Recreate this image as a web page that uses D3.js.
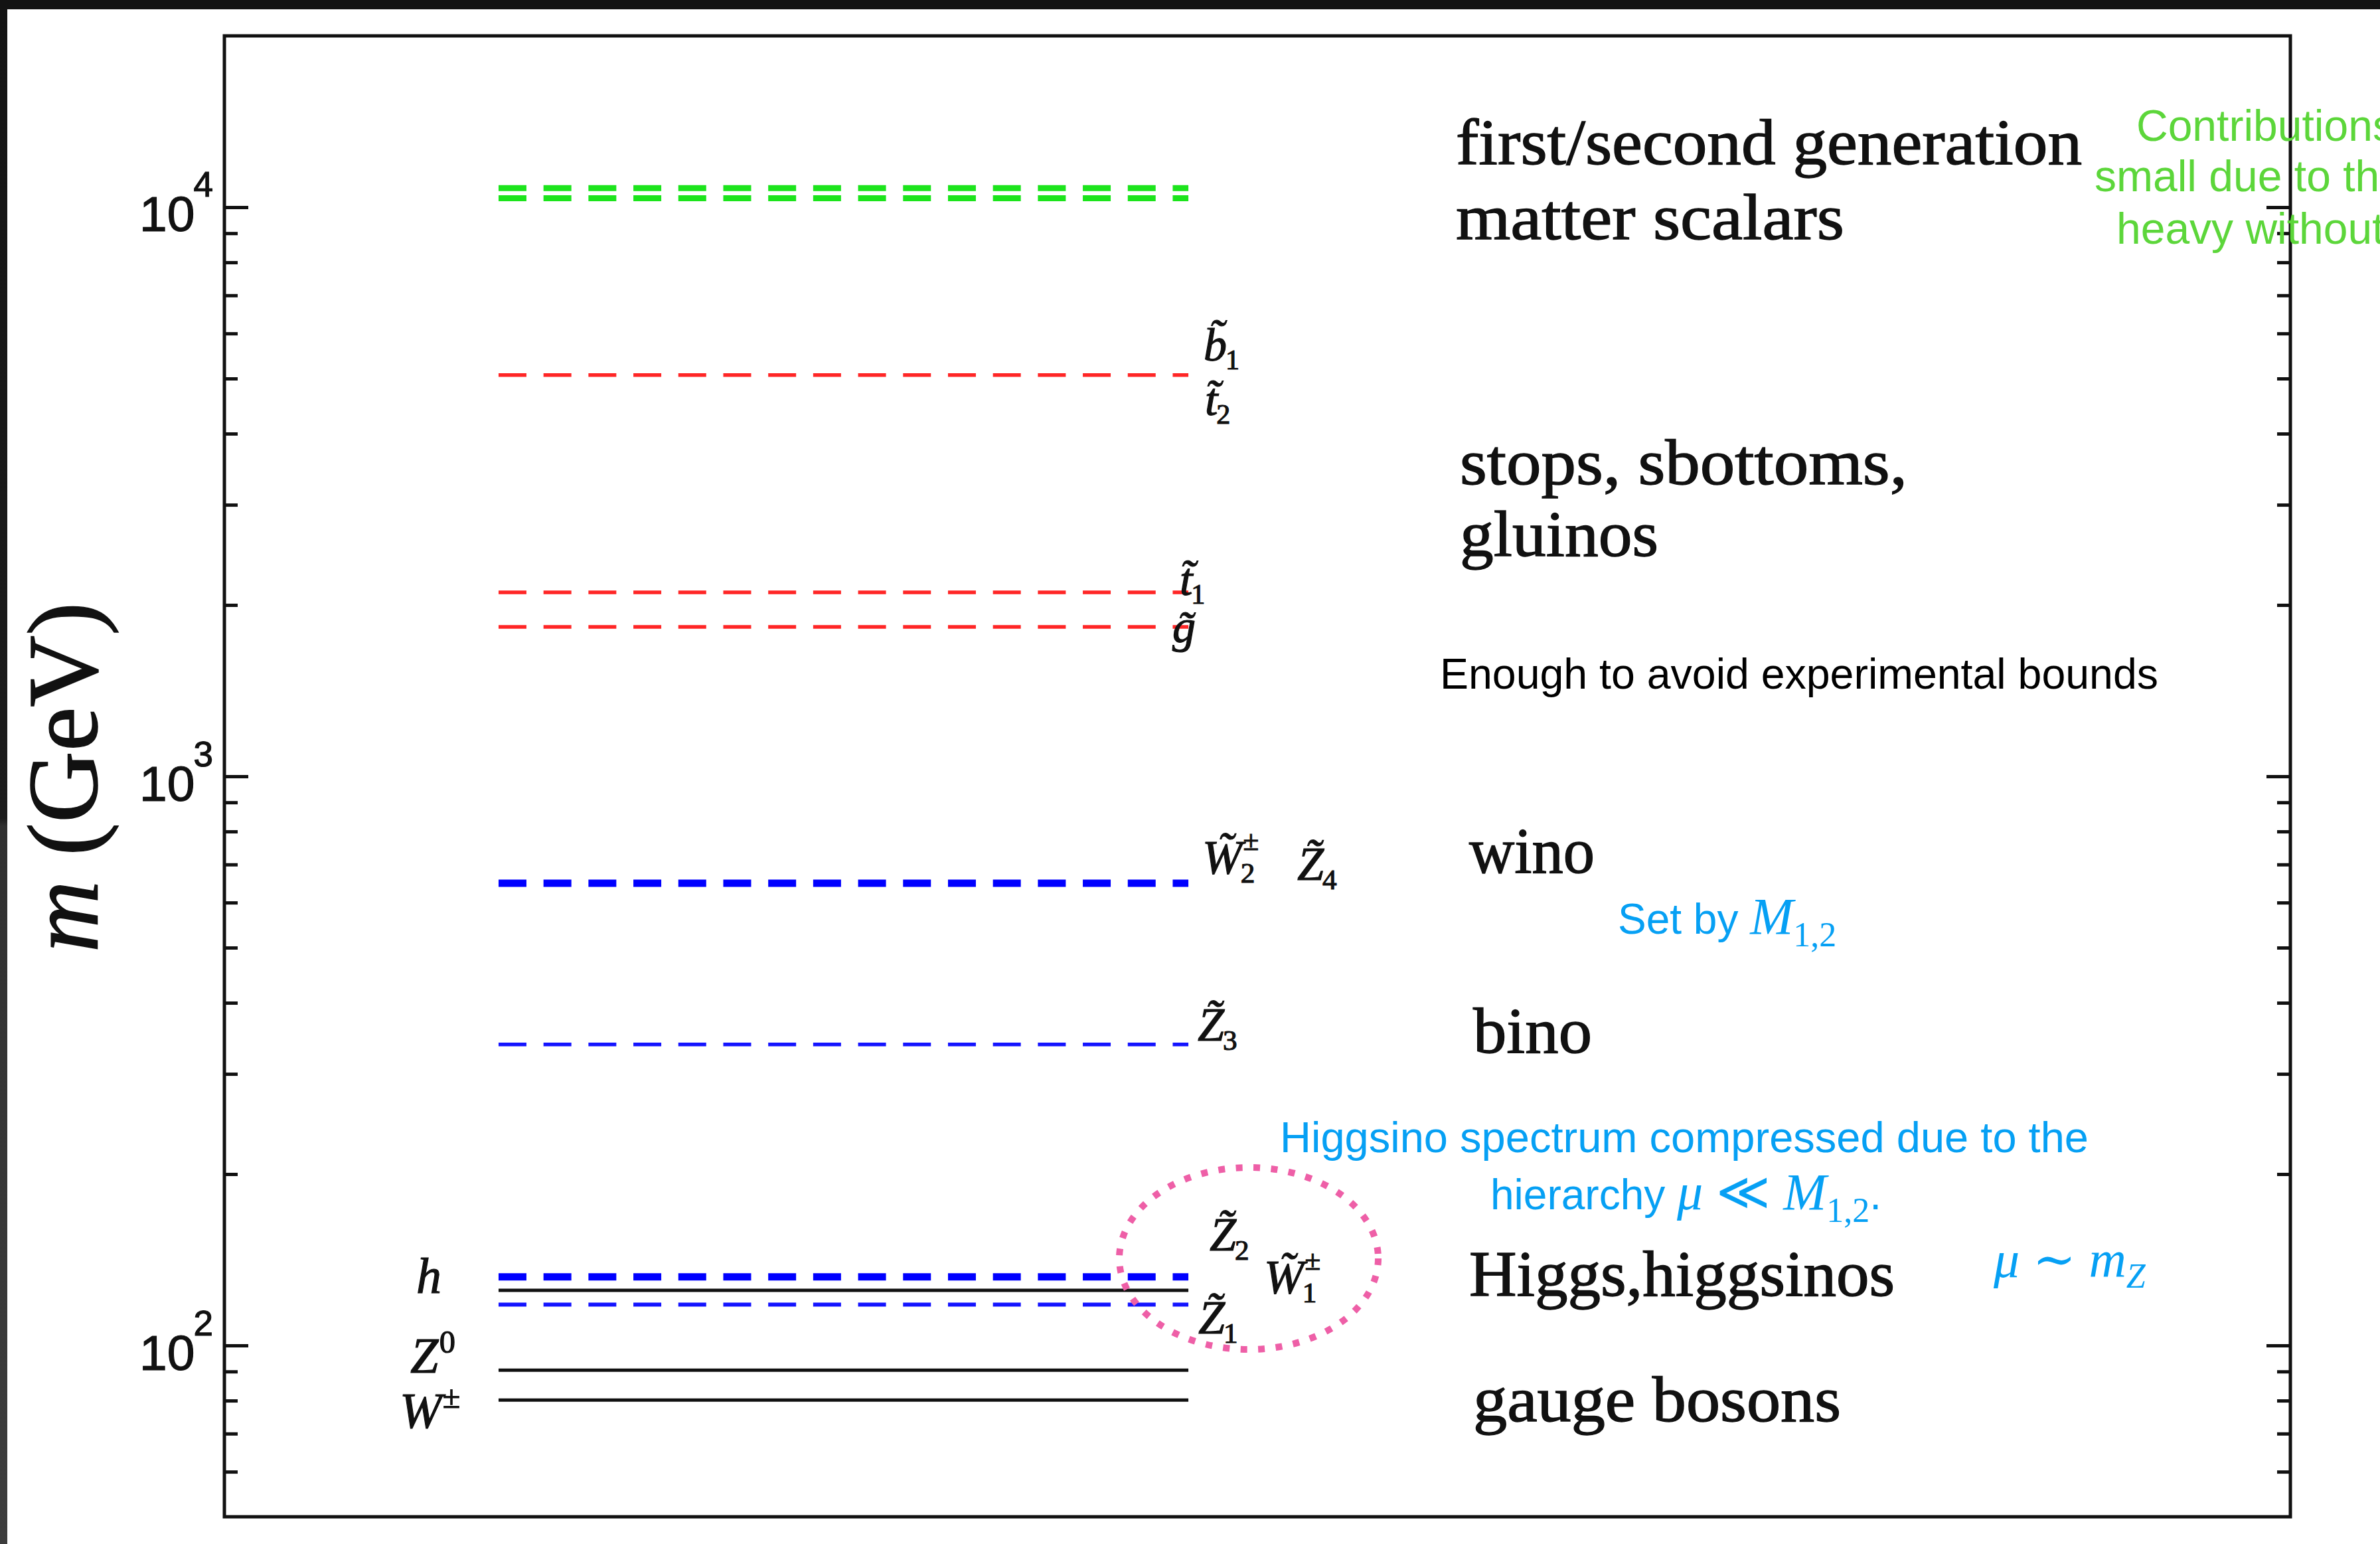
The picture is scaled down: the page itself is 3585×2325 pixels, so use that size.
<!DOCTYPE html>
<html>
<head>
<meta charset="utf-8">
<script src="https://cdn.jsdelivr.net/npm/d3@7"></script>
<style>
  html, body { margin: 0; padding: 0; background: #fff; }
  svg { display: block; }
</style>
</head>
<body>
<svg id="chart" width="3585" height="2325"></svg>
<script>
// ---------------- DATA ----------------
const levelIds    = ["q12_a", "q12_b", "b1_t2", "t1", "gluino", "wino", "bino", "higgsino_hi", "higgs", "higgsino_lo", "Z0", "W"];
const levelMasses = [10800, 10370, 5070, 2105, 1830, 649, 338, 132, 125, 118, 90.5, 80.2];
const levelKinds  = ["scalar", "scalar", "colored", "colored", "colored", "winoK", "binoK", "higgsinoHi", "sm", "higgsinoLo", "sm", "sm"];
const massDomain  = [50, 20000];
const majorTicks  = [100, 1000, 10000];

const categoryLabels = ["first/second generation", "matter scalars", "stops, sbottoms,", "gluinos",
                        "wino", "bino", "Higgs,higgsinos", "gauge bosons"];

// particle labels: [base, sub, sup, tilde]
const particleLabels = [
  ["b", "1", "", true], ["t", "2", "", true], ["t", "1", "", true], ["g", "", "", true],
  ["W", "2", "±", true], ["Z", "4", "", true], ["Z", "3", "", true],
  ["Z", "2", "", true], ["W", "1", "±", true], ["Z", "1", "", true],
  ["h", "", "", false], ["Z", "", "0", false], ["W", "", "±", false]
];

const greenNote = ["Contributions", "small due to the", "heavy without"];
const blackNote = "Enough to avoid experimental bounds";
const higgsinoNote = "Higgsino spectrum compressed due to the";

// ---------------- LAYOUT / STYLE ----------------
const W = 3585, H = 2325;
const frame = { left: 338, right: 3450, top: 54, bottom: 2284 };
const levelSpan = [0.1327, 0.4666];
const SERIF = "'Liberation Serif', 'Times New Roman', 'DejaVu Serif', serif";
const SANS  = "'Liberation Sans', Arial, Helvetica, sans-serif";
const INK = "#111";
const NOTE_BLUE = "#06A0F4";
const DASH = "42 25.7";

const kindStyle = {
  scalar:     { stroke: "#1CE41C", width: 9,   dash: DASH },
  colored:    { stroke: "#FF2626", width: 5.5, dash: DASH },
  winoK:      { stroke: "#0000FF", width: 11,  dash: DASH },
  binoK:      { stroke: "#1414FF", width: 5.5, dash: DASH },
  higgsinoHi: { stroke: "#0000FF", width: 11,  dash: DASH },
  higgsinoLo: { stroke: "#1414FF", width: 6,   dash: DASH },
  sm:         { stroke: INK,       width: 5,   dash: null }
};

const categoryLayout = [[2193, 247, 943], [2193, 360, 585], [2199, 729, 674], [2199, 837, 299],
                        [2213, 1314, 189], [2219, 1585, 179], [2213, 1951, 641], [2219, 2140, 554]];

// [x, baseline, size]
const particleLayout = [
  [1813, 543, 70], [1815, 625, 70], [1777, 896, 70], [1766, 967, 70],
  [1811, 1315, 72], [1954, 1325, 72], [1804, 1567, 72],
  [1822, 1883, 72], [1904, 1947, 72], [1805, 2008, 72],
  [627, 1947, 76], [618, 2067, 76], [602, 2150, 76]
];

// ---------------- DRAW ----------------
const svg = d3.select("#chart");
svg.append("rect").attr("x", 0).attr("y", 0).attr("width", W).attr("height", H).attr("fill", "#fff");

// dark screenshot borders
const defs = svg.append("defs");
const grad = defs.append("linearGradient").attr("id", "leftBand").attr("x1", 0).attr("y1", 0).attr("x2", 0).attr("y2", 1);
[[0, "#141414"], [0.53, "#1c1c1c"], [0.535, "#303030"], [1, "#3d3d3d"]].forEach(([o, c]) =>
  grad.append("stop").attr("offset", o).attr("stop-color", c));
svg.append("rect").attr("x", 0).attr("y", 0).attr("width", 11).attr("height", H).attr("fill", "url(#leftBand)");
svg.append("rect").attr("x", 0).attr("y", 0).attr("width", W).attr("height", 14).attr("fill", "#131313");

const y = d3.scaleLog().domain(massDomain).range([frame.bottom, frame.top]);
const x = d3.scaleLinear().domain([0, 1]).range([frame.left, frame.right]);

const minorTicks = y.ticks().filter(v => !majorTicks.includes(v) && v > massDomain[0] && v < massDomain[1]);

function styleAxis(g) {
  g.select(".domain").remove();
  g.selectAll(".tick line").attr("stroke", INK).attr("stroke-width", 5);
}

// left axis
const gLmin = svg.append("g").attr("transform", `translate(${frame.left},0)`)
  .call(d3.axisLeft(y).tickValues(minorTicks).tickSize(-20).tickFormat(""));
styleAxis(gLmin);
const gLmaj = svg.append("g").attr("transform", `translate(${frame.left},0)`)
  .call(d3.axisLeft(y).tickValues(majorTicks).tickSize(-36).tickPadding(15).tickFormat(() => "10"));
styleAxis(gLmaj);
gLmaj.selectAll(".tick text")
  .attr("text-anchor", "start").attr("x", 210 - frame.left).attr("dy", 36)
  .attr("font-family", SANS).attr("font-size", 75).attr("fill", INK)
  .attr("stroke", INK).attr("stroke-width", 1.2)
  .each(function (d) {
    d3.select(this).append("tspan").attr("dy", -52).attr("dx", -2).attr("font-size", 53)
      .text(Math.round(Math.log10(d)));
  });

// right axis
const gRmin = svg.append("g").attr("transform", `translate(${frame.right},0)`)
  .call(d3.axisRight(y).tickValues(minorTicks).tickSize(-20).tickFormat(""));
styleAxis(gRmin);
const gRmaj = svg.append("g").attr("transform", `translate(${frame.right},0)`)
  .call(d3.axisRight(y).tickValues(majorTicks).tickSize(-36).tickFormat(""));
styleAxis(gRmaj);

// frame
svg.append("rect")
  .attr("x", frame.left).attr("y", frame.top)
  .attr("width", frame.right - frame.left).attr("height", frame.bottom - frame.top)
  .attr("fill", "none").attr("stroke", INK).attr("stroke-width", 5);

// y-axis title
svg.append("text")
  .attr("transform", `translate(146, ${(907 + 1434) / 2}) rotate(-90)`)
  .attr("text-anchor", "middle").attr("font-family", SERIF).attr("font-size", 150).attr("fill", INK)
  .attr("stroke", INK).attr("stroke-width", 1.5)
  .attr("textLength", 527).attr("lengthAdjust", "spacingAndGlyphs")
  .call(t => {
    t.append("tspan").attr("font-style", "italic").text("m");
    t.append("tspan").text(" (GeV)");
  });

// mass levels
const levels = levelMasses.map((m, i) => ({ id: levelIds[i], mass: m, kind: levelKinds[i] }));
svg.append("g").selectAll("line").data(levels).join("line")
  .attr("x1", x(levelSpan[0])).attr("x2", x(levelSpan[1]))
  .attr("y1", d => y(d.mass)).attr("y2", d => y(d.mass))
  .attr("stroke", d => kindStyle[d.kind].stroke)
  .attr("stroke-width", d => kindStyle[d.kind].width)
  .attr("stroke-dasharray", d => kindStyle[d.kind].dash);

// particle labels (one text element each; sub/superscripts as tspans)
const pg = svg.append("g").attr("fill", INK).attr("stroke", INK).attr("stroke-width", 1.2);
particleLabels.forEach(([base, sub, sup, tilde], i) => {
  const [px, py, size] = particleLayout[i];
  const small = size * 0.6;
  const t = pg.append("text").attr("x", px).attr("y", py)
    .attr("font-family", SERIF).attr("font-size", size);
  const b = t.append("tspan").attr("font-style", "italic").text(base + (tilde ? "\u0303" : ""));
  const w = b.node().getComputedTextLength();
  if (sub) t.append("tspan").attr("x", px + w - size * 0.03).attr("y", py + size * 0.19)
    .attr("font-size", small).text(sub);
  if (sup) t.append("tspan").attr("x", px + w + size * 0.02).attr("y", py - size * (sub ? 0.48 : 0.4))
    .attr("font-size", small * (sub ? 1 : 1.06)).text(sup);
});

// category labels
svg.append("g").selectAll("text").data(categoryLabels).join("text")
  .attr("x", (d, i) => categoryLayout[i][0]).attr("y", (d, i) => categoryLayout[i][1])
  .attr("textLength", (d, i) => categoryLayout[i][2]).attr("lengthAdjust", "spacingAndGlyphs")
  .attr("font-family", SERIF).attr("font-size", 98).attr("fill", INK)
  .attr("stroke", INK).attr("stroke-width", 1.4)
  .text(d => d);

// pink dotted ellipse around the compressed higgsino states
svg.append("ellipse")
  .attr("cx", 1881).attr("cy", 1895).attr("rx", 195).attr("ry", 137)
  .attr("fill", "none").attr("stroke", "#EE5FA7").attr("stroke-width", 10)
  .attr("stroke-dasharray", "10 16.5");

// black note
svg.append("text").attr("x", 2169).attr("y", 1037)
  .attr("font-family", SANS).attr("font-size", 64).attr("fill", "#000")
  .attr("textLength", 1082).attr("lengthAdjust", "spacingAndGlyphs")
  .text(blackNote);

// green note (cut by the image edge, as in the source screenshot)
svg.append("g").selectAll("text").data(greenNote).join("text")
  .attr("x", (d, i) => [3218, 3155, 3188][i]).attr("y", (d, i) => [212, 288, 367][i])
  .attr("font-family", SANS).attr("font-size", 66).attr("fill", "#5CD63A")
  .text(d => d);

// blue notes
const blue = svg.append("g").attr("fill", NOTE_BLUE);
blue.append("text").attr("x", 2437).attr("y", 1406).call(t => {
  t.append("tspan").attr("font-family", SANS).attr("font-size", 64).text("Set by ");
  t.append("tspan").attr("font-family", SERIF).attr("font-style", "italic").attr("font-size", 78).text("M");
  t.append("tspan").attr("font-family", SERIF).attr("font-size", 52).attr("dy", 19).text("1,2");
});
blue.append("text").attr("x", 1928).attr("y", 1735)
  .attr("font-family", SANS).attr("font-size", 64)
  .attr("textLength", 1218).attr("lengthAdjust", "spacingAndGlyphs")
  .text(higgsinoNote);
blue.append("text").attr("x", 2245).attr("y", 1821).call(t => {
  t.append("tspan").attr("font-family", SANS).attr("font-size", 64).text("hierarchy ");
  t.append("tspan").attr("font-family", SERIF).attr("font-style", "italic").attr("font-size", 78).text("μ");
  t.append("tspan").attr("font-family", SERIF).attr("font-size", 78).text(" ≪ ");
  t.append("tspan").attr("font-family", SERIF).attr("font-style", "italic").attr("font-size", 78).text("M");
  t.append("tspan").attr("font-family", SERIF).attr("font-size", 52).attr("dy", 19).text("1,2");
  t.append("tspan").attr("font-family", SANS).attr("font-size", 64).attr("dy", -19).text(".");
});
blue.append("text").attr("x", 3003).attr("y", 1923).call(t => {
  t.append("tspan").attr("font-family", SERIF).attr("font-style", "italic").attr("font-size", 78).text("μ");
  t.append("tspan").attr("font-family", SERIF).attr("font-size", 78).text(" ∼ ");
  t.append("tspan").attr("font-family", SERIF).attr("font-style", "italic").attr("font-size", 78).text("m");
  t.append("tspan").attr("font-family", SERIF).attr("font-style", "italic").attr("font-size", 52).attr("dy", 16).text("Z");
});
</script>
</body>
</html>
